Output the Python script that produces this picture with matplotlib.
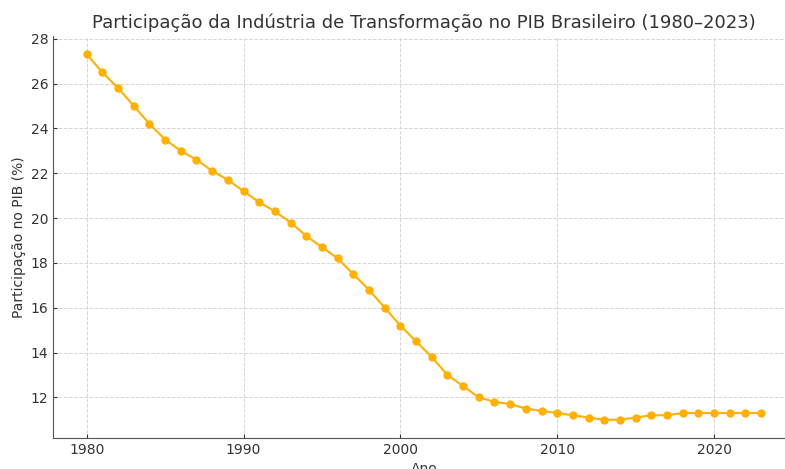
import matplotlib.pyplot as plt

anos = list(range(1980, 2024))
participacao = [27.3, 26.5, 25.8, 25.0, 24.2, 23.5, 23.0, 22.6, 22.1, 21.7,
                21.2, 20.7, 20.3, 19.8, 19.2, 18.7, 18.2, 17.5, 16.8, 16.0,
                15.2, 14.5, 13.8, 13.0, 12.5, 12.0, 11.8, 11.7, 11.5, 11.4,
                11.3, 11.2, 11.1, 11.0, 11.0, 11.1, 11.2, 11.2, 11.3, 11.3,
                11.3, 11.3, 11.3, 11.3]

fig = plt.figure(figsize=(7.85, 4.69), dpi=100)
ax = fig.add_axes([0.0675, 0.066, 0.945, 0.857])

ax.plot(anos, participacao, color='#FFB000', marker='o', markersize=5, linewidth=1.5)

ax.set_title('Participação da Indústria de Transformação no PIB Brasileiro (1980–2023)',
             fontsize=13, color='#333333')
ax.set_xlabel('Ano', fontsize=10, color='#333333')
ax.set_ylabel('Participação no PIB (%)', fontsize=10, color='#333333', labelpad=3)
ax.set_yticks(range(12, 29, 2))
ax.set_xticks([1980, 1990, 2000, 2010, 2020])
ax.tick_params(labelsize=10, colors='#333333', direction='in', length=3)
ax.grid(True, linestyle='--', color='#d5d5d5', linewidth=0.7)
ax.spines['top'].set_visible(False)
ax.spines['right'].set_visible(False)
ax.spines['left'].set_color('#555555')
ax.spines['bottom'].set_color('#555555')

fig.savefig('out.png', dpi=100)
